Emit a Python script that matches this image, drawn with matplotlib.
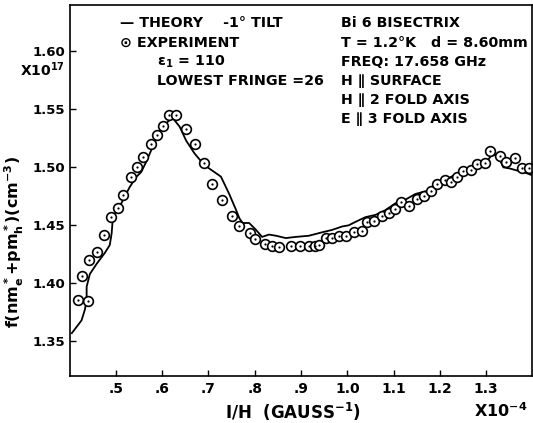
import matplotlib
matplotlib.use("Agg")
import matplotlib.pyplot as plt

# ---- data ----
exp_x = [0.419, 0.439, 0.428, 0.443, 0.460, 0.475, 0.489, 0.504, 0.515, 0.532,
         0.546, 0.558, 0.576, 0.590, 0.603, 0.615, 0.631, 0.652, 0.672, 0.691,
         0.707, 0.730, 0.750, 0.766, 0.790, 0.801, 0.823, 0.837, 0.853, 0.879,
         0.897, 0.917, 0.930, 0.939, 0.953, 0.967, 0.982, 0.997, 1.014, 1.032,
         1.043, 1.058, 1.074, 1.091, 1.104, 1.115, 1.134, 1.151, 1.165, 1.180,
         1.194, 1.210, 1.224, 1.238, 1.251, 1.268, 1.281, 1.297, 1.309, 1.330,
         1.343, 1.362, 1.377, 1.392]
exp_y = [1.386, 1.385, 1.406, 1.420, 1.427, 1.442, 1.457, 1.465, 1.476, 1.492,
         1.500, 1.509, 1.520, 1.528, 1.536, 1.545, 1.545, 1.533, 1.520, 1.504,
         1.486, 1.472, 1.458, 1.449, 1.443, 1.438, 1.434, 1.432, 1.431, 1.432,
         1.432, 1.432, 1.432, 1.433, 1.439, 1.439, 1.441, 1.441, 1.444, 1.445,
         1.453, 1.454, 1.458, 1.461, 1.464, 1.470, 1.467, 1.473, 1.475, 1.480,
         1.486, 1.489, 1.487, 1.492, 1.497, 1.498, 1.503, 1.504, 1.514, 1.510,
         1.505, 1.508, 1.499, 1.499]

theory_x = [0.405, 0.426, 0.433, 0.437, 0.437, 0.444, 0.459, 0.476, 0.487, 0.491,
            0.493, 0.498, 0.512, 0.530, 0.545, 0.555, 0.566, 0.580, 0.595, 0.609,
            0.622, 0.638, 0.652, 0.670, 0.691, 0.709, 0.727, 0.745, 0.760, 0.767,
            0.774, 0.788, 0.803, 0.816, 0.831, 0.846, 0.867, 0.889, 0.917, 0.946,
            0.967, 0.989, 1.003, 1.018, 1.039, 1.061, 1.082, 1.104, 1.125, 1.147,
            1.175, 1.197, 1.225, 1.247, 1.276, 1.301, 1.311, 1.322, 1.330, 1.337,
            1.351, 1.369, 1.387, 1.400]
theory_y = [1.357, 1.368, 1.377, 1.385, 1.397, 1.408, 1.417, 1.426, 1.433, 1.443,
            1.453, 1.460, 1.469, 1.483, 1.492, 1.496, 1.505, 1.518, 1.532, 1.538,
            1.543, 1.535, 1.523, 1.512, 1.502, 1.497, 1.492, 1.477, 1.463, 1.456,
            1.452, 1.452, 1.446, 1.440, 1.442, 1.441, 1.439, 1.440, 1.441, 1.444,
            1.446, 1.449, 1.450, 1.453, 1.457, 1.459, 1.463, 1.469, 1.472, 1.477,
            1.480, 1.486, 1.492, 1.496, 1.501, 1.505, 1.510, 1.511, 1.506, 1.500,
            1.499, 1.497, 1.495, 1.493]

x_ticks = [0.5, 0.6, 0.7, 0.8, 0.9, 1.0, 1.1, 1.2, 1.3]
x_ticklabels = [".5", ".6", ".7", ".8", ".9", "1.0", "1.1", "1.2", "1.3"]
y_ticks = [1.35, 1.40, 1.45, 1.50, 1.55, 1.60]
y_ticklabels = ["1.35", "1.40", "1.45", "1.50", "1.55", "1.60"]

left_notes = ["\u2014 THEORY    -1\u00b0 TILT", "\u2299 EXPERIMENT",
              r"$\epsilon_1$ = 110", "LOWEST FRINGE =26"]
right_notes = ["Bi 6 BISECTRIX", "T = 1.2\u00b0K   d = 8.60mm", "FREQ: 17.658 GHz",
               "H \u2225 SURFACE", "H \u2225 2 FOLD AXIS", "E \u2225 3 FOLD AXIS"]

plt.rcParams['font.family'] = ['DejaVu Sans']
plt.rcParams['mathtext.default'] = 'regular'

fig = plt.figure(figsize=(5.33, 4.23), dpi=100)
ax = fig.add_axes([0.1304, 0.111, 0.8686, 0.8772])

ax.plot(theory_x, theory_y, color='black', lw=1.3)
ax.plot(exp_x, exp_y, linestyle='none', marker='o', ms=7, mfc='white',
        mec='black', mew=1.2)
ax.plot(exp_x, exp_y, linestyle='none', marker='o', ms=1.6, mfc='black',
        mec='black', mew=0)

ax.set_xlim(0.40, 1.40)
ax.set_ylim(1.32, 1.64)
ax.set_xticks(x_ticks)
ax.set_xticklabels(x_ticklabels)
ax.set_yticks(y_ticks)
ax.set_yticklabels(y_ticklabels)
ax.tick_params(direction='in', length=4, width=1, labelsize=10, pad=4)
ax.tick_params(axis='y', labelsize=9.5, pad=3)
for lab in ax.get_xticklabels() + ax.get_yticklabels():
    lab.set_fontweight('bold')
for s in ax.spines.values():
    s.set_linewidth(1.2)

ax.set_xlabel("I/H  (GAUSS$^{-1}$)", fontsize=12, fontweight='bold', labelpad=3)
ax.xaxis.set_label_coords(0.482, -0.068)
ax.set_ylabel(r"f(nm$_e^*$+pm$_h^*$)(cm$^{-3}$)", fontsize=11.5, fontweight='bold')
ax.yaxis.set_label_coords(-0.093, 0.36)

ax.text(0.99, -0.068, "X10$^{-4}$", transform=ax.transAxes, fontsize=11.5,
        fontweight='bold', ha='right', va='top')
ax.text(-0.010, 1.584, "X10$^{17}$", transform=ax.get_yaxis_transform(),
        fontsize=10, fontweight='bold', ha='right', va='center')

left_y = [0.952, 0.897, 0.846, 0.795]
for t, yy in zip(left_notes, left_y):
    xx = 0.109 if (t.startswith("\u2014") or t.startswith("\u2299")) else 0.189
    ax.text(xx, yy, t, transform=ax.transAxes, fontsize=10.3, fontweight='bold',
            ha='left', va='center')
right_y = [0.952, 0.897, 0.846, 0.795, 0.744, 0.693]
for t, yy in zip(right_notes, right_y):
    ax.text(0.586, yy, t, transform=ax.transAxes, fontsize=10.3, fontweight='bold',
            ha='left', va='center')

fig.savefig("out.png", dpi=100)
